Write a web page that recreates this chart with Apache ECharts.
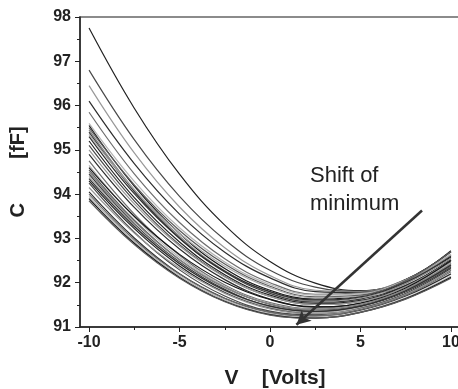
<!DOCTYPE html>
<html>
<head>
<meta charset="utf-8">
<style>
  html, body { margin: 0; padding: 0; background: #fff; }
  #cv { width: 458px; height: 389px; }
</style>
<script src="https://cdn.jsdelivr.net/npm/echarts@6/dist/echarts.min.js"></script>
</head>
<body>
<div id="cv"></div>
<script>
// gate voltage sample points (V)
const volts = [-10, -7.5, -5, -2.5, 0, 2.5, 5, 7.5, 10];

const bandTop = [
  [97.75, 95.94, 94.45, 93.30, 92.48, 91.99, 91.82, 92.05, 92.72],
  [96.80, 95.23, 93.95, 92.97, 92.28, 91.90, 91.81, 92.07, 92.70],
  [96.45, 94.93, 93.71, 92.79, 92.16, 91.83, 91.80, 92.07, 92.62],
  [96.10, 94.69, 93.55, 92.69, 92.11, 91.80, 91.78, 92.07, 92.70],
  [95.85, 94.46, 93.36, 92.54, 92.00, 91.74, 91.77, 92.06, 92.62],
  [95.60, 94.29, 93.24, 92.47, 91.96, 91.72, 91.75, 92.06, 92.65]
];
const bandMid = [
  [95.55, 94.18, 93.11, 92.32, 91.83, 91.63, 91.70, 92.02, 92.58],
  [95.50, 94.21, 93.18, 92.42, 91.92, 91.68, 91.72, 92.05, 92.70],
  [95.45, 94.10, 93.05, 92.27, 91.79, 91.59, 91.66, 91.98, 92.55],
  [95.40, 94.06, 93.01, 92.24, 91.76, 91.56, 91.63, 91.94, 92.50],
  [95.35, 94.10, 93.11, 92.37, 91.89, 91.66, 91.69, 92.01, 92.62],
  [95.30, 94.01, 93.00, 92.26, 91.80, 91.61, 91.68, 92.01, 92.60],
  [95.20, 93.92, 92.92, 92.18, 91.72, 91.53, 91.60, 91.93, 92.52],
  [95.10, 93.85, 92.86, 92.14, 91.69, 91.51, 91.58, 91.91, 92.48],
  [95.00, 93.78, 92.83, 92.13, 91.69, 91.51, 91.58, 91.91, 92.50],
  [94.90, 93.70, 92.76, 92.07, 91.63, 91.46, 91.53, 91.86, 92.45]
];
const bandLow = [
  [94.75, 93.55, 92.62, 91.95, 91.55, 91.42, 91.53, 91.86, 92.40],
  [94.65, 93.48, 92.57, 91.92, 91.53, 91.40, 91.52, 91.87, 92.45],
  [94.60, 93.50, 92.64, 92.01, 91.62, 91.45, 91.54, 91.88, 92.50],
  [94.55, 93.41, 92.52, 91.89, 91.51, 91.38, 91.49, 91.82, 92.38],
  [94.50, 93.38, 92.52, 91.90, 91.52, 91.40, 91.51, 91.85, 92.42],
  [94.45, 93.33, 92.47, 91.85, 91.47, 91.35, 91.46, 91.79, 92.35],
  [94.40, 93.30, 92.44, 91.82, 91.45, 91.33, 91.44, 91.76, 92.30],
  [94.35, 93.27, 92.43, 91.83, 91.47, 91.35, 91.47, 91.82, 92.40],
  [94.30, 93.22, 92.38, 91.78, 91.42, 91.30, 91.41, 91.75, 92.32]
];
const bandBottom = [
  [94.25, 93.14, 92.29, 91.70, 91.36, 91.28, 91.42, 91.75, 92.28],
  [94.15, 93.12, 92.33, 91.76, 91.41, 91.30, 91.41, 91.74, 92.30],
  [94.05, 93.01, 92.20, 91.65, 91.33, 91.25, 91.38, 91.70, 92.20],
  [94.00, 92.97, 92.19, 91.64, 91.33, 91.25, 91.39, 91.72, 92.25],
  [93.95, 92.93, 92.15, 91.61, 91.30, 91.22, 91.35, 91.66, 92.15],
  [93.90, 92.89, 92.12, 91.58, 91.28, 91.20, 91.33, 91.64, 92.12],
  [93.85, 92.86, 92.10, 91.57, 91.27, 91.20, 91.33, 91.63, 92.10]
];

const yTicks = [91, 92, 93, 94, 95, 96, 97, 98];
const xMajor = [-10, -5, 0, 5, 10];
const xMinor = [-7.5, -2.5, 2.5, 7.5];

// arrow "shift of minimum", in data units (V, fF)
const arrowFrom = [8.4, 93.63];
const arrowTo = [1.46, 91.05];

// line greys, cycled
const greys = ['#222', '#4a4a4a', '#999', '#2e2e2e', '#6e6e6e', '#b5b5b5', '#161616', '#5c5c5c', '#858585', '#3a3a3a', '#a8a8a8', '#303030'];

const chart = echarts.init(document.getElementById('cv'));

const allCurves = [].concat(bandTop, bandMid, bandLow, bandBottom);
const series = allCurves.map(function (row, i) {
  return {
    type: 'line',
    data: row.map(function (c, j) { return [volts[j], c]; }),
    smooth: 0.4,
    symbol: 'none',
    silent: true,
    lineStyle: { width: 1.2, color: greys[i % greys.length] }
  };
});
// arrow on its own empty series
series.push({
  type: 'line',
  data: [],
  markLine: {
    silent: true,
    symbol: ['none', 'arrow'],
    symbolSize: [11, 14],
    label: { show: false },
    lineStyle: { color: '#333', width: 2.5, type: 'solid' },
    data: [[{ coord: arrowFrom }, { coord: arrowTo }]]
  }
});

const font = 'Liberation Sans, Arial, sans-serif';

chart.setOption({
  animation: false,
  backgroundColor: '#fff',
  grid: {
    left: 80, top: 17, right: -2, bottom: 62,
    show: true, borderColor: '#666', borderWidth: 1.5,
    outerBoundsMode: 'none'
  },
  xAxis: [
    {
      type: 'value', min: -10.5, max: 10.5, position: 'bottom',
      name: 'V    [Volts]', nameLocation: 'middle', nameGap: 41,
      nameTextStyle: { fontFamily: font, fontSize: 21, fontWeight: 'bold', color: '#222', padding: [0, 0, 0, 10] },
      axisLine: { onZero: false, lineStyle: { color: '#222', width: 1.5 } },
      axisTick: { customValues: xMajor, length: 5, lineStyle: { color: '#222' } },
      axisLabel: { customValues: xMajor, margin: 8, fontFamily: font, fontSize: 16, fontWeight: 'bold', color: '#222' },
      splitLine: { show: false }
    },
    {
      type: 'value', min: -10.5, max: 10.5, position: 'bottom', offset: 0,
      axisLine: { show: false, onZero: false },
      axisTick: { customValues: xMinor, length: 3, lineStyle: { color: '#222' } },
      axisLabel: { show: false },
      splitLine: { show: false }
    }
  ],
  yAxis: {
    type: 'value', min: 91, max: 98, interval: 1,
    name: 'C        [fF]', nameLocation: 'middle', nameGap: 52,
    nameTextStyle: { fontFamily: font, fontSize: 20, fontWeight: 'bold', color: '#222' },
    axisLine: { show: true, onZero: false, lineStyle: { color: '#222', width: 1.5 } },
    axisTick: { show: true, length: 5, lineStyle: { color: '#222' } },
    minorTick: { show: true, splitNumber: 2, length: 3, lineStyle: { color: '#222' } },
    axisLabel: {
      margin: 9, fontFamily: font, fontSize: 16, fontWeight: 'bold', color: '#222',
      formatter: function (v) { return yTicks.indexOf(v) >= 0 ? String(v) : ''; }
    },
    splitLine: { show: false }
  },
  graphic: [{
    type: 'text', left: 310, top: 162, silent: true,
    style: { text: 'Shift of\nminimum', fontFamily: font, fontSize: 22, lineHeight: 28, fill: '#222' }
  }],
  series: series
});
</script>
</body>
</html>
